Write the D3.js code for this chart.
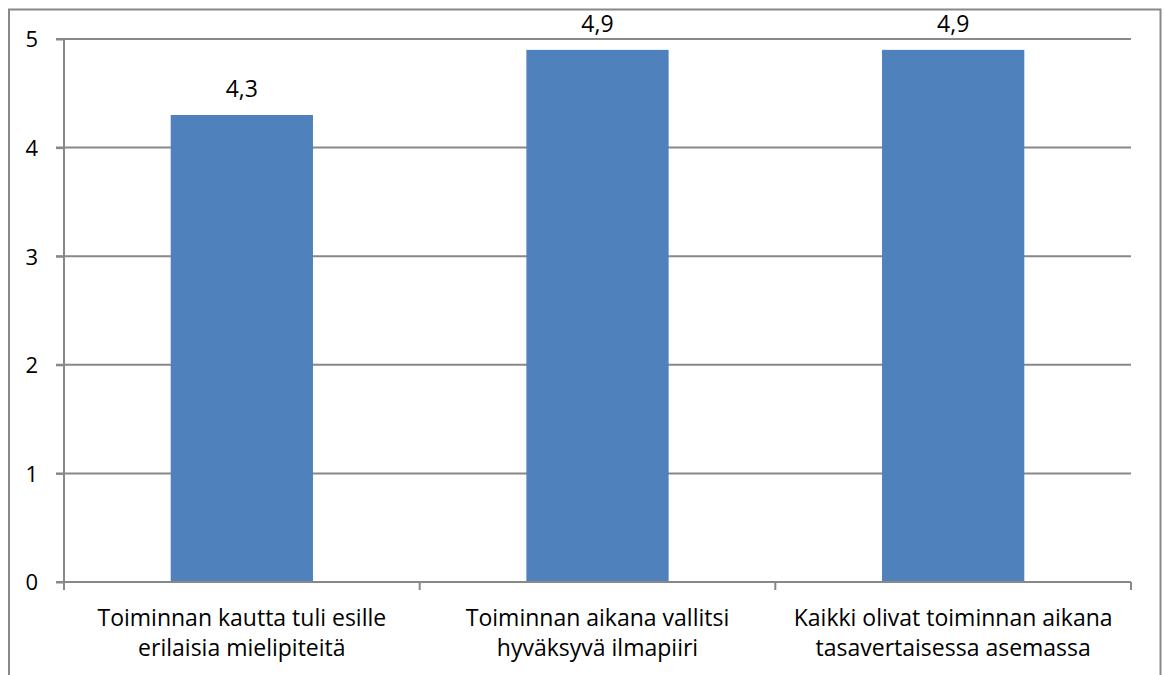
<!DOCTYPE html>
<html>
<head>
<meta charset="utf-8">
<script src="https://cdn.jsdelivr.net/npm/d3@7"></script>
<style>
body { margin: 0; background: #fff; }
text { font-family: "Open Sans", sans-serif; fill: #000; }
</style>
</head>
<body>
<svg width="1164" height="675"></svg>
<script>
var categories = [
    ["Toiminnan kautta tuli esille", "erilaisia mielipiteitä"],
    ["Toiminnan aikana vallitsi", "hyväksyvä ilmapiiri"],
    ["Kaikki olivat toiminnan aikana", "tasavertaisessa asemassa"]
];
var values = [4.3, 4.9, 4.9];
var valueLabels = ["4,3", "4,9", "4,9"];
var yTicks = [0, 1, 2, 3, 4, 5];

var svg = d3.select("svg");
var margin = {top: 39, right: 33, bottom: 93, left: 64};
var width = 1164 - margin.left - margin.right;
var height = 675 - margin.top - margin.bottom;

// outer frame
svg.append("rect")
    .attr("x", 9).attr("y", 9.5)
    .attr("width", 1151.5).attr("height", 700)
    .attr("fill", "none")
    .attr("stroke", "#888")
    .attr("stroke-width", 2);

var g = svg.append("g").attr("transform", "translate(" + margin.left + "," + margin.top + ")");

var x = d3.scaleBand().domain(d3.range(categories.length)).range([0, width]).paddingInner(0.6).paddingOuter(0.3);
var xc = d3.scaleBand().domain(d3.range(categories.length)).range([0, width]);
var y = d3.scaleLinear().domain([0, 5]).range([height, 0]);

// gridlines
g.selectAll(".grid").data(yTicks.filter(function(d) { return d > 0; }))
  .enter().append("line")
    .attr("x1", -8).attr("x2", width)
    .attr("y1", function(d) { return y(d); })
    .attr("y2", function(d) { return y(d); })
    .attr("stroke", "#888").attr("stroke-width", 2);

g.selectAll(".bar").data(values)
  .enter().append("rect")
    .attr("x", function(d, i) { return x(i); })
    .attr("width", x.bandwidth())
    .attr("y", function(d) { return y(d); })
    .attr("height", function(d) { return height - y(d); })
    .attr("fill", "#4F81BD");

// axes
var yAxis = d3.axisLeft(y).tickValues(yTicks).tickSize(8).tickFormat(d3.format("d"));
var ya = g.append("g").call(yAxis);
ya.select(".domain").attr("stroke", "#888").attr("stroke-width", 2).attr("d", "M0," + height + "V0");
ya.selectAll(".tick line").attr("stroke", "#888").attr("stroke-width", 2);
ya.selectAll(".tick text").attr("x", -26).attr("text-anchor", "end").attr("dy", "0.36em")
    .style("font-size", "22px").style("font-family", "'Open Sans', sans-serif").attr("fill", "#000");

var xa = g.append("g").attr("transform", "translate(0," + height + ")");
xa.append("line").attr("x1", -8).attr("x2", width).attr("stroke", "#888").attr("stroke-width", 2);
xa.selectAll(".xt").data(d3.range(categories.length + 1))
  .enter().append("line")
    .attr("x1", function(d) { return d * xc.step(); })
    .attr("x2", function(d) { return d * xc.step(); })
    .attr("y1", 0).attr("y2", 8)
    .attr("stroke", "#888").attr("stroke-width", 2);

var lbl = xa.selectAll(".xl").data(categories)
  .enter().append("text")
    .attr("text-anchor", "middle")
    .attr("transform", function(d, i) { return "translate(" + (xc(i) + xc.bandwidth() / 2) + ",0)"; })
    .style("font-size", "23px");
lbl.selectAll("tspan").data(function(d) { return d; })
  .enter().append("tspan")
    .attr("x", 0)
    .attr("y", function(d, i) { return 44 + i * 30; })
    .text(function(d) { return d; });

g.selectAll(".vl").data(values)
  .enter().append("text")
    .attr("x", function(d, i) { return x(i) + x.bandwidth() / 2; })
    .attr("y", function(d) { return y(d) - 18; })
    .attr("text-anchor", "middle")
    .style("font-size", "23px")
    .text(function(d, i) { return valueLabels[i]; });
</script>
</body>
</html>
